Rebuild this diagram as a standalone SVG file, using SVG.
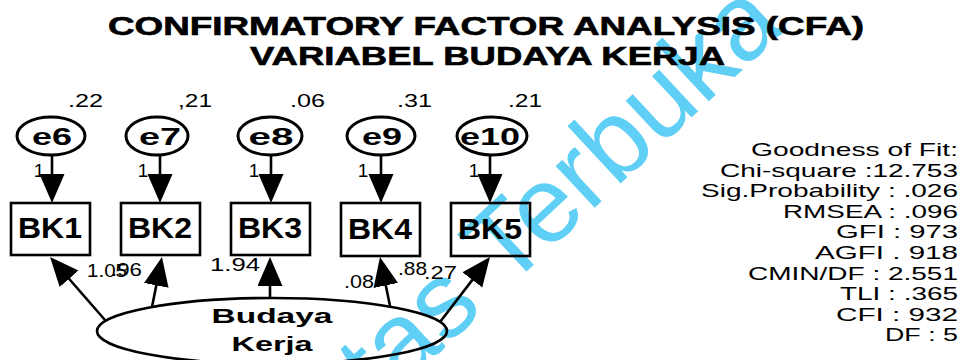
<svg xmlns="http://www.w3.org/2000/svg" width="967" height="360" viewBox="0 0 967 360">
<style>
text{font-family:"Liberation Sans",Arial,sans-serif;fill:#000}
.title{font-size:25px;font-weight:bold;stroke:#000;stroke-width:0.6}
.fit{font-size:18.5px;text-anchor:end}
.num{font-size:19px}
.one{font-size:19px;text-anchor:middle}
.box{fill:none;stroke:#000;stroke-width:2.6}
.err{fill:none;stroke:#000;stroke-width:3}
.lat{fill:none;stroke:#000;stroke-width:2.6}
.bk{font-size:29px;font-weight:bold;text-anchor:middle}
.el{font-size:24px;font-weight:bold;text-anchor:middle}
.lv{font-size:21px;font-weight:bold;text-anchor:middle}
.arr{stroke:#000;stroke-width:2.6;fill:none;marker-end:url(#ah)}
.wm{font-size:108px;fill:#5fcff6}
</style>
<defs>
<marker id="ah" markerUnits="userSpaceOnUse" markerWidth="30" markerHeight="26" refX="19" refY="12.5" orient="auto">
<path d="M0,0 L29,12.5 L0,25 z" fill="#000"/>
</marker>
</defs>
<rect width="967" height="360" fill="#fff"/>
<g id="watermark">
<text class="wm" x="380" y="408" transform="rotate(-43 380 408)">tas Terbuka</text>
</g>
<g id="title">
<text class="title" x="108" y="35" textLength="756" lengthAdjust="spacingAndGlyphs">CONFIRMATORY FACTOR ANALYSIS (CFA)</text>
<text class="title" x="250" y="65" textLength="475" lengthAdjust="spacingAndGlyphs">VARIABEL BUDAYA KERJA</text>
</g>
<g id="connectors">
<line class="arr" x1="52" y1="155" x2="52" y2="193"/>
<line class="arr" x1="160" y1="155" x2="160" y2="193"/>
<line class="arr" x1="271" y1="155" x2="271" y2="193"/>
<line class="arr" x1="381" y1="155" x2="381" y2="193"/>
<line class="arr" x1="490" y1="155" x2="490" y2="193"/>
<line class="arr" x1="105" y1="320" x2="56.6" y2="264.5"/>
<line class="arr" x1="152" y1="307" x2="160" y2="266.8"/>
<line class="arr" x1="270" y1="298" x2="270" y2="267"/>
<line class="arr" x1="390" y1="306" x2="382" y2="266.8"/>
<line class="arr" x1="440" y1="322" x2="483.9" y2="264.9"/>
<text class="one" x="39" y="177">1</text>
<text class="one" x="143" y="177">1</text>
<text class="one" x="254" y="177">1</text>
<text class="one" x="363" y="177">1</text>
<text class="one" x="474" y="177">1</text>
<text class="num" x="87" y="277" textLength="40" lengthAdjust="spacingAndGlyphs">1.05</text>
<text class="num" x="111" y="276" textLength="31" lengthAdjust="spacingAndGlyphs">.96</text>
<text class="num" x="210" y="271" textLength="50" lengthAdjust="spacingAndGlyphs">1.94</text>
<text class="num" x="344" y="288" textLength="30" lengthAdjust="spacingAndGlyphs">.08</text>
<text class="num" x="398" y="275" textLength="29" lengthAdjust="spacingAndGlyphs">.88</text>
<text class="num" x="424" y="279" textLength="33" lengthAdjust="spacingAndGlyphs">.27</text>
</g>
<g id="e6"><ellipse class="err" cx="51" cy="136" rx="34" ry="19"/><text class="el" x="52" y="145" textLength="40" lengthAdjust="spacingAndGlyphs">e6</text><text class="num" x="68" y="107" textLength="35" lengthAdjust="spacingAndGlyphs">.22</text></g>
<g id="e7"><ellipse class="err" cx="157" cy="136" rx="31" ry="19"/><text class="el" x="160" y="145" textLength="42" lengthAdjust="spacingAndGlyphs">e7</text><text class="num" x="178" y="107" textLength="34" lengthAdjust="spacingAndGlyphs">,21</text></g>
<g id="e8"><ellipse class="err" cx="270" cy="136" rx="32" ry="19"/><text class="el" x="271" y="145" textLength="45" lengthAdjust="spacingAndGlyphs">e8</text><text class="num" x="290" y="107" textLength="35" lengthAdjust="spacingAndGlyphs">.06</text></g>
<g id="e9"><ellipse class="err" cx="381" cy="136" rx="34" ry="19"/><text class="el" x="382" y="145" textLength="40" lengthAdjust="spacingAndGlyphs">e9</text><text class="num" x="397" y="107" textLength="35" lengthAdjust="spacingAndGlyphs">.31</text></g>
<g id="e10"><ellipse class="err" cx="492" cy="136" rx="35" ry="19"/><text class="el" x="490" y="145" textLength="60" lengthAdjust="spacingAndGlyphs">e10</text><text class="num" x="508" y="107" textLength="34" lengthAdjust="spacingAndGlyphs">.21</text></g>
<g id="BK1"><rect class="box" x="11" y="203" width="79" height="52"/><text class="bk" x="50" y="238" textLength="64" lengthAdjust="spacingAndGlyphs">BK1</text></g>
<g id="BK2"><rect class="box" x="121" y="203" width="79" height="52"/><text class="bk" x="160" y="238" textLength="64" lengthAdjust="spacingAndGlyphs">BK2</text></g>
<g id="BK3"><rect class="box" x="231" y="203" width="79" height="52"/><text class="bk" x="270" y="238" textLength="64" lengthAdjust="spacingAndGlyphs">BK3</text></g>
<g id="BK4"><rect class="box" x="341" y="203" width="79" height="53"/><text class="bk" x="380" y="239" textLength="64" lengthAdjust="spacingAndGlyphs">BK4</text></g>
<g id="BK5"><rect class="box" x="451" y="203" width="79" height="53"/><text class="bk" x="490" y="239" textLength="64" lengthAdjust="spacingAndGlyphs">BK5</text></g>
<g id="budaya-kerja">
<ellipse class="lat" cx="272" cy="331" rx="175" ry="33"/>
<text class="lv" x="272" y="323" textLength="121" lengthAdjust="spacingAndGlyphs">Budaya</text>
<text class="lv" x="272" y="351" textLength="81" lengthAdjust="spacingAndGlyphs">Kerja</text>
</g>
<g id="fit">
<text class="fit" x="958" y="156" textLength="207" lengthAdjust="spacingAndGlyphs">Goodness of Fit:</text>
<text class="fit" x="958" y="176.6" textLength="238" lengthAdjust="spacingAndGlyphs">Chi-square :12.753</text>
<text class="fit" x="958" y="197.2" textLength="257" lengthAdjust="spacingAndGlyphs">Sig.Probability : .026</text>
<text class="fit" x="958" y="217.8" textLength="175" lengthAdjust="spacingAndGlyphs">RMSEA : .096</text>
<text class="fit" x="958" y="238.4" textLength="122" lengthAdjust="spacingAndGlyphs">GFI : 973</text>
<text class="fit" x="958" y="259" textLength="143" lengthAdjust="spacingAndGlyphs">AGFI . 918</text>
<text class="fit" x="958" y="279.6" textLength="210" lengthAdjust="spacingAndGlyphs">CMIN/DF : 2.551</text>
<text class="fit" x="958" y="300.2" textLength="118" lengthAdjust="spacingAndGlyphs">TLI : .365</text>
<text class="fit" x="958" y="320.8" textLength="122" lengthAdjust="spacingAndGlyphs">CFI : 932</text>
<text class="fit" x="958" y="341.4" textLength="73" lengthAdjust="spacingAndGlyphs">DF : 5</text>
</g>
</svg>
